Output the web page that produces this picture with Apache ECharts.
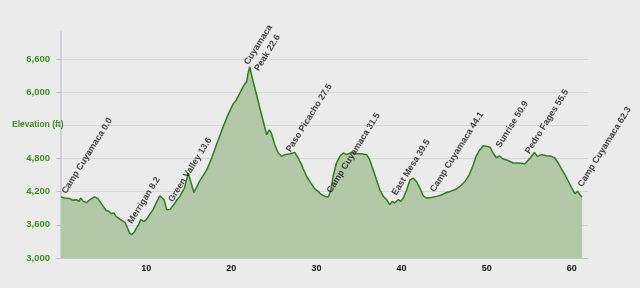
<!DOCTYPE html>
<html>
<head>
<meta charset="utf-8">
<script src="https://cdn.jsdelivr.net/npm/echarts@6/dist/echarts.min.js"></script>
<style>html,body{margin:0;padding:0;background:#ebebeb;}#c{width:640px;height:288px;}</style>
</head>
<body>
<div id="c"></div>
<script>
// Elevation profile (miles, feet)
const miles = [0.0,0.4,1.0,1.4,1.8,2.1,2.3,2.6,3.0,3.4,3.9,4.3,4.55,4.95,5.3,5.6,5.9,6.2,6.45,6.7,6.9,7.1,7.5,7.75,8.05,8.3,8.6,8.85,9.1,9.35,9.5,9.75,10.0,10.4,10.8,11.2,11.6,11.8,12.1,12.4,12.8,13.2,13.6,13.95,14.5,14.93,15.6,16.3,17.1,17.7,18.25,19.05,19.6,20.2,20.6,21.0,21.4,21.8,21.97,22.17,22.37,22.56,22.96,23.35,23.75,24.15,24.45,24.7,25.1,25.5,25.9,26.3,26.9,27.45,27.85,28.25,28.45,28.85,29.35,29.8,30.2,30.6,31.0,31.4,31.7,31.95,32.35,32.75,33.15,33.55,34.1,34.7,35.3,35.9,36.25,36.65,37.05,37.45,37.85,38.25,38.6,38.9,39.2,39.6,39.9,40.2,40.6,41.0,41.35,41.75,42.15,42.55,42.95,43.5,44.1,44.7,45.1,45.7,46.25,46.85,47.45,47.95,48.35,48.75,49.2,49.6,50.05,50.4,50.75,51.15,51.45,51.95,52.5,53.1,53.7,53.9,54.5,55.1,55.6,55.95,56.45,57.05,57.6,58.0,58.4,58.8,59.2,59.6,60.0,60.35,60.7,60.95,61.2];
const elevation = [4105,4085,4075,4045,4055,4025,4085,4025,4005,4055,4105,4080,4025,3935,3860,3845,3800,3815,3755,3725,3755,3680,3645,3560,3450,3425,3465,3545,3600,3695,3725,3660,3695,3785,3875,4005,4125,4145,4055,3875,3880,3960,4050,4115,4270,4535,4185,4400,4590,4810,5050,5380,5590,5785,5865,5985,6105,6195,6345,6460,6315,6195,5955,5715,5470,5230,5320,5260,5050,4900,4840,4870,4885,4910,4810,4690,4610,4475,4355,4250,4205,4145,4115,4105,4235,4475,4720,4840,4900,4870,4910,4885,4885,4870,4780,4600,4415,4235,4115,4055,3965,4025,3995,4055,4025,4085,4235,4415,4445,4385,4265,4125,4085,4095,4115,4140,4175,4205,4235,4295,4385,4505,4655,4840,4960,5030,5020,5005,4900,4810,4850,4790,4765,4720,4720,4730,4705,4810,4910,4840,4870,4850,4840,4810,4720,4610,4505,4385,4265,4165,4205,4145,4105];

// Waypoint annotations (label text, position in miles / feet where the label starts)
const waypointNames = ['Camp Cuyamaca 0.0','Merrigan 8.2','Green Valley 13.6','Cuyamaca\nPeak 22.6','Paso Picacho 27.5','Camp Cuyamaca 31.5','East Mesa 39.5','Camp Cuyamaca 44.1','Sunrise 50.9','Pedro Fages 55.5','Camp Cuyamaca 62.3'];
const waypointMiles = [0.05,7.8,12.57,22.68,26.4,31.19,38.83,43.33,51.05,54.49,60.68];
const waypointElev = [4172,3633,4024,6394,4928,4187,4145,4205,5008,4899,4295];

// Axis ticks
const xTicks = [10,20,30,40,50,60];
const yTicks = [3000,3600,4200,4800,5400,6000,6600];

const chart = echarts.init(document.getElementById('c'), null, {renderer:'canvas'});
const FONT = '"Liberation Sans", Arial, sans-serif';
chart.setOption({
  animation: false,
  backgroundColor: '#ebebeb',
  grid: {left: 56, right: 52, top: 32, bottom: 30},
  xAxis: {
    type: 'value', min: -0.6, max: 61.9,
    axisLine: {show: true, lineStyle: {color: '#c4c9cf', width: 1}},
    axisTick: {show: false},
    splitLine: {show: false},
    axisLabel: {customValues: xTicks, color: '#111', fontFamily: FONT, fontWeight: 'bold', fontSize: 9, margin: 6}
  },
  yAxis: {
    type: 'value', min: 3000, max: 7090, interval: 600,
    axisLine: {show: true, lineStyle: {color: '#c4c9cf', width: 1.5}},
    axisTick: {show: true, length: 4, lineStyle: {color: '#b8bec5'}},
    splitLine: {show: true, showMaxLine: false, lineStyle: {color: '#d6d6d6', width: 1}},
    axisLabel: {
      showMaxLabel: false,
      color: '#3b8f1f', fontFamily: FONT, fontWeight: 'bold', fontSize: 9.5, margin: 6,
      formatter: function (v) { return (yTicks.indexOf(v) >= 0 && v !== 5400) ? v.toLocaleString('en-US') : ''; }
    }
  },
  graphic: [{
    type: 'text', left: 12, top: 120, z: 100,
    style: {text: 'Elevation (ft)', fill: '#3b8f1f', font: 'bold 8.5px ' + FONT}
  }],
  series: [{
    type: 'line',
    z: 2,
    data: miles.map((m, i) => [m, elevation[i]]),
    showSymbol: false, symbol: 'none',
    lineStyle: {color: '#2f7d1f', width: 1.5},
    areaStyle: {color: '#b3c8a6', opacity: 1, origin: 'start'},
    silent: true
  }, {
    type: 'scatter',
    z: 10,
    data: waypointMiles.map((m, i) => [m, waypointElev[i]]),
    symbolSize: 0,
    silent: true,
    label: {
      show: true,
      position: [0, 0],
      offset: [1.5, 8],
      align: 'left', verticalAlign: 'bottom',
      rotate: 58,
      formatter: p => waypointNames[p.dataIndex],
      color: '#111', fontFamily: FONT, fontWeight: 'bold', fontSize: 9, lineHeight: 12
    }
  }]
});
</script>
</body>
</html>
